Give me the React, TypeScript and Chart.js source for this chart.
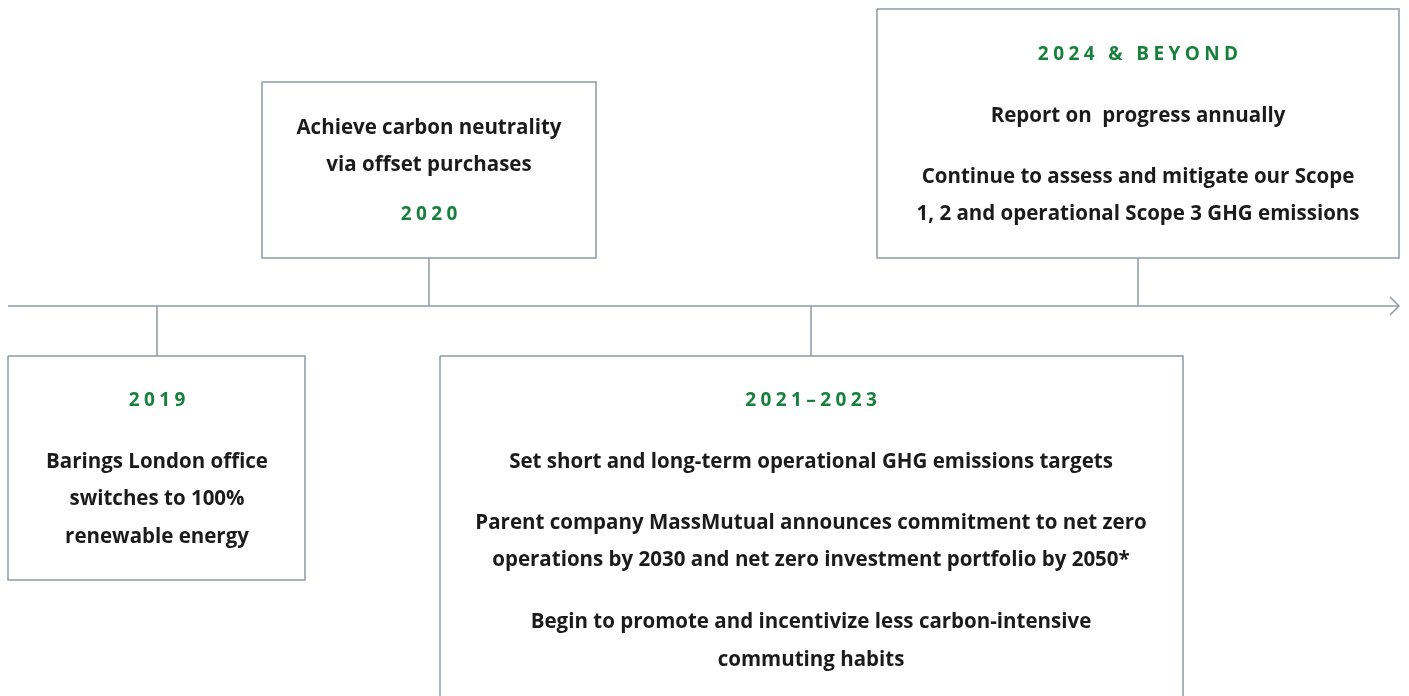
import React, { useEffect, useRef } from "react";
import { Chart, registerables } from "chart.js";

Chart.register(...registerables);

// ---- data ----
const milestones = ["2019", "2020", "2021–2023", "2024 & BEYOND"];
const milestoneX = [157, 429, 811, 1138]; // position along the timeline
const milestoneSide = ["below", "above", "below", "above"];
const descriptions: string[][] = [
  ["Barings London office", "switches to 100%", "renewable energy"],
  ["Achieve carbon neutrality", "via offset purchases"],
  [
    "Set short and long-term operational GHG emissions targets",
    "Parent company MassMutual announces commitment to net zero",
    "operations by 2030 and net zero investment portfolio by 2050*",
    "Begin to promote and incentivize less carbon-intensive",
    "commuting habits",
  ],
  [
    "Report on  progress annually",
    "Continue to assess and mitigate our Scope",
    "1, 2 and operational Scope 3 GHG emissions",
  ],
];

// ---- layout (positions in scale units) ----
const TIMELINE_Y = 306;
const TIMELINE_START = 8;
const TIMELINE_END = 1399;
const boxes = [
  { l: 8, r: 305, t: 356, b: 580 },
  { l: 262, r: 596, t: 82, b: 258 },
  { l: 440, r: 1183, t: 356, b: 702 },
  { l: 877, r: 1399, t: 9, b: 258 },
];
const yearY = [401, 215, 401, 55];
const lineY: number[][] = [
  [462, 499, 537],
  [128, 165],
  [462, 523, 560, 622, 660],
  [116, 177, 214],
];

const LINE_COLOR = "#8e9ba7";
const GREEN = "#18803d";
const TEXT = "#1b1b1b";

export default function App() {
  const ref = useRef<HTMLCanvasElement | null>(null);
  useEffect(() => {
    if (!ref.current) return;
    const datasets: any[] = [];
    const lineDs = (data: { x: number; y: number }[]) => ({
      type: "line",
      data,
      borderColor: LINE_COLOR,
      borderWidth: 1.5,
      pointRadius: 0,
      fill: false,
      tension: 0,
    });
    // timeline
    datasets.push(lineDs([{ x: TIMELINE_START, y: TIMELINE_Y }, { x: TIMELINE_END, y: TIMELINE_Y }]));
    // arrow head
    datasets.push(
      lineDs([
        { x: TIMELINE_END - 9, y: TIMELINE_Y - 9 },
        { x: TIMELINE_END, y: TIMELINE_Y },
        { x: TIMELINE_END - 9, y: TIMELINE_Y + 9 },
      ])
    );
    milestones.forEach((_, i) => {
      const b = boxes[i];
      const edge = milestoneSide[i] === "above" ? b.b : b.t;
      datasets.push(lineDs([{ x: milestoneX[i], y: TIMELINE_Y }, { x: milestoneX[i], y: edge }]));
      datasets.push(
        lineDs([
          { x: b.l, y: b.t },
          { x: b.r, y: b.t },
          { x: b.r, y: b.b },
          { x: b.l, y: b.b },
          { x: b.l, y: b.t },
        ])
      );
    });

    const textPlugin = {
      id: "timelineText",
      afterDatasetsDraw(chart: any) {
        const { ctx, scales } = chart;
        const xs = scales.x;
        const ys = scales.y;
        ctx.save();
        ctx.textAlign = "center";
        ctx.textBaseline = "middle";
        milestones.forEach((m, i) => {
          const cx = xs.getPixelForValue(milestoneX[i]);
          ctx.fillStyle = GREEN;
          ctx.font = "bold 19px 'Open Sans'";
          const sp = 4.4;
          (ctx as any).letterSpacing = sp + "px";
          ctx.fillText(m, cx + sp / 2, ys.getPixelForValue(yearY[i]));
          (ctx as any).letterSpacing = "0px";
          ctx.fillStyle = TEXT;
          ctx.font = "bold 20.5px 'Open Sans'";
          descriptions[i].forEach((t, j) => {
            ctx.fillText(t, cx, ys.getPixelForValue(lineY[i][j]));
          });
        });
        ctx.restore();
      },
    };

    const chart = new Chart(ref.current, {
      type: "scatter",
      data: { datasets },
      options: {
        animation: false,
        responsive: false,
        maintainAspectRatio: false,
        layout: { padding: 0 },
        plugins: { legend: { display: false }, tooltip: { enabled: false } },
        scales: {
          x: { type: "linear", min: 0, max: 1409, display: false },
          y: { type: "linear", min: 0, max: 696, reverse: true, display: false },
        },
      },
      plugins: [textPlugin],
    } as any);
    return () => chart.destroy();
  }, []);

  return (
    <div style={{ position: "fixed", left: 0, top: 0, width: 1409, height: 696, background: "#fff" }}>
      <canvas ref={ref} width={1409} height={696} style={{ width: 1409, height: 696 }} />
    </div>
  );
}
